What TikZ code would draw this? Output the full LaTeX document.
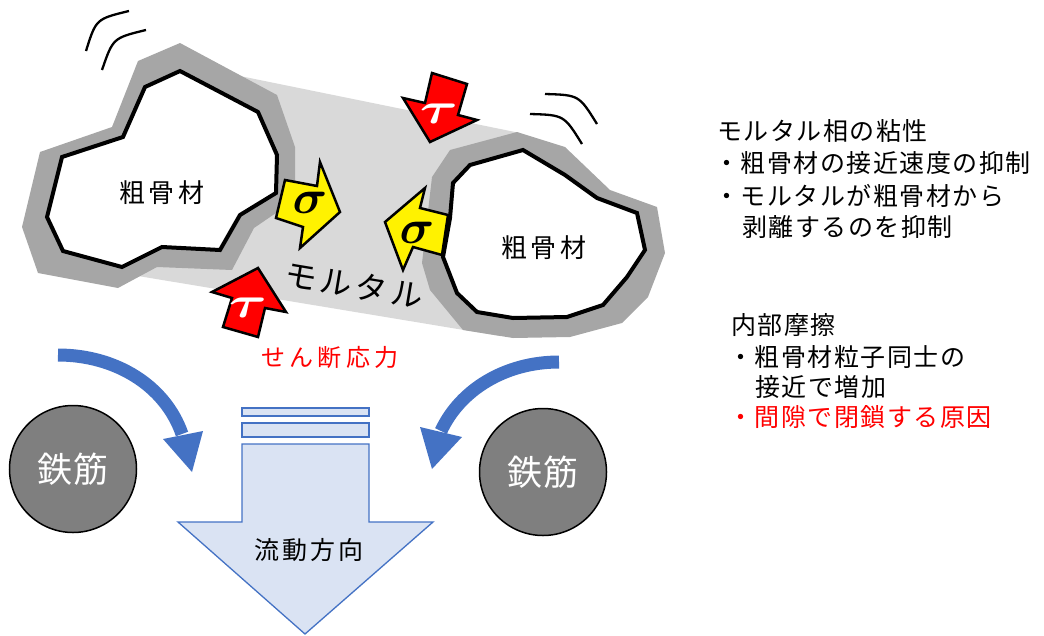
\documentclass[tikz,border=0pt]{standalone}
\usepackage{fontspec}
\usepackage{graphicx}
\newfontfamily\jp{Noto Sans CJK JP}[LetterSpace=6]
\newfontfamily\jpw{Noto Sans CJK JP}[LetterSpace=12]
\newfontfamily\jpx{Noto Sans CJK JP}[LetterSpace=18]
\newfontfamily\jpr{Noto Sans CJK JP}[LetterSpace=3]
\definecolor{mortar}{HTML}{D9D9D9}
\definecolor{paste}{HTML}{A6A6A6}
\definecolor{flowfill}{HTML}{DAE3F3}
\definecolor{flowline}{HTML}{4472C4}
\definecolor{rebargray}{HTML}{7F7F7F}
\tikzset{
  pasteband/.style={fill=paste},
  stone/.style={fill=white, draw=black, line width=4pt, line join=miter},
  wave/.style={draw=black, line width=2.3pt},
  sigarrow/.style={fill=yellow, draw=black, line width=2.5pt, line join=miter},
  tauarrow/.style={fill=red, draw=black, line width=2.5pt, line join=miter},
  flowbox/.style={fill=flowfill, draw=flowline, line width=1.3pt},
  bendarrow/.style={draw=flowline, line width=13pt},
  bendhead/.style={fill=flowline},
  rebar/.style={circle, fill=rebargray, draw=black, line width=1.5pt, minimum size=127pt,
    text=white, font=\jpr\fontsize{35}{40}\selectfont},
  label/.style={inner sep=0pt, font=\jp\fontsize{25}{30}\selectfont},
}
\begin{document}
\begin{tikzpicture}[x=1pt, y=-1pt]
\useasboundingbox (0,0) rectangle (1044,635);

% mortar matrix between the two stones
\fill[mortar] (240,76) -- (520,133) -- (500,336) -- (120,273) -- cycle;

% left coarse aggregate with paste coating
\fill[pasteband] (180,43) -- (277,95) -- (295,147) -- (295,200) -- (254,228) -- (232,270)
  -- (157,267) -- (118,288) -- (38,273) -- (22,227) -- (40,152) -- (112,127) -- (138,61) -- cycle;
\draw[stone] (180,71) -- (258,112) -- (277,155) -- (276,193) -- (240,215) -- (220,250)
  -- (162,247) -- (122,267) -- (63,251) -- (47,217) -- (62,157) -- (123,137) -- (145,87) -- cycle;

% right coarse aggregate with paste coating
\fill[pasteband] (517,132) -- (565,147) -- (610,190) -- (657,207) -- (665,253) -- (648,297)
  -- (622,323) -- (570,337) -- (513,338) -- (463,330) -- (430,290) -- (422,263) -- (432,177) -- (450,150) -- cycle;
\draw[stone] (523,150) -- (565,175) -- (597,198) -- (637,213) -- (645,250) -- (627,277)
  -- (603,305) -- (567,317) -- (513,318) -- (477,312) -- (457,293) -- (443,257) -- (450,218) -- (453,183) -- (470,165) -- cycle;

% vibration marks
\draw[wave] (86,51) .. controls (96,19) .. (129,11);
\draw[wave] (102,70) .. controls (113,38) .. (146,30);
\draw[wave] (545,94) .. controls (579,95) .. (597,124);
\draw[wave] (530,114) .. controls (564,115) .. (582,144);

% normal stress arrows
\draw[sigarrow] (285,180) -- (317,186) -- (320,162) -- (340,212) -- (300,248) -- (303,227) -- (276,218) -- cycle;
\draw[sigarrow] (448,215) -- (420,208) -- (425,188) -- (385,222) -- (403,270) -- (413,247) -- (442,255) -- cycle;
\node[inner sep=0pt] (sg1) at (310,203) {\scalebox{4.8}{\boldmath$\sigma$}};
\node[inner sep=0pt] (sg2) at (417,233) {\scalebox{4.8}{\boldmath$\sigma$}};

% shear stress arrows
\draw[tauarrow] (432,73) -- (467,84) -- (458,115) -- (477,120) -- (430,142) -- (403,98) -- (425,103) -- cycle;
\draw[tauarrow] (258,268) -- (286,312) -- (265,308) -- (258,337) -- (223,327) -- (232,298) -- (212,292) -- cycle;
\node[inner sep=0pt, text=white] (tau1) at (439,114) {\scalebox{5.8}[4.4]{\boldmath$\tau$}};
\node[inner sep=0pt, text=white] (tau2) at (248,308) {\scalebox{5.8}[4.4]{\boldmath$\tau$}};

% labels in the sketch
\node[inner sep=0pt, font=\jpw\fontsize{26}{30}\selectfont] (agg1) at (162,193) {粗骨材};
\node[inner sep=0pt, font=\jpw\fontsize{26}{30}\selectfont] (agg2) at (544,248) {粗骨材};
\node[inner sep=0pt, rotate=-9.5, font=\jpw\fontsize{32}{36}\selectfont] (mtr) at (354,285) {モルタル};
\node[inner sep=0pt, text=red, font=\jpx\fontsize{24}{28}\selectfont] (shear) at (330,357) {せん断応力};

% flow direction arrow
\draw[flowbox] (242,408) rectangle (369,416);
\draw[flowbox] (242,423) rectangle (369,437);
\draw[flowbox] (242,444) -- (369,444) -- (369,522) -- (433,522) -- (305,634) -- (178,522) -- (242,522) -- cycle;
\node[inner sep=0pt, font=\jpw\fontsize{25}{30}\selectfont] (flow) at (309,550) {流動方向};

% curved flow arrows around the rebars
\coordinate (la0) at (58,355);
\coordinate (la1) at (182,434);
\coordinate (ra0) at (559,362);
\coordinate (ra1) at (441,431);
\draw[bendarrow] (la0) .. controls (115,355) and (165,385) .. (la1);
\fill[bendhead] (163,439) -- (203,431) -- (192,472) -- cycle;
\draw[bendarrow] (ra0) .. controls (505,362) and (460,390) .. (ra1);
\fill[bendhead] (420,427) -- (462,437) -- (432,469) -- cycle;

% rebars
\node[rebar] (rb1) at (73,469) {鉄筋};
\node[rebar] (rb2) at (543,472) {鉄筋};

% notes on the right
\node[label, anchor=west] (n1) at (717,131) {モルタル相の粘性};
\node[label, anchor=west] (n2) at (714,163) {・粗骨材の接近速度の抑制};
\node[label, anchor=west] (n3) at (714,196) {・モルタルが粗骨材から};
\node[label, anchor=west] (n4) at (742,227) {剥離するのを抑制};
\node[label, anchor=west] (m1) at (731,325) {内部摩擦};
\node[label, anchor=west] (m2) at (728,357) {・粗骨材粒子同士の};
\node[label, anchor=west] (m3) at (755,387) {接近で増加};
\node[label, anchor=west, text=red] (m4) at (728,417) {・間隙で閉鎖する原因};
\end{tikzpicture}
\end{document}
